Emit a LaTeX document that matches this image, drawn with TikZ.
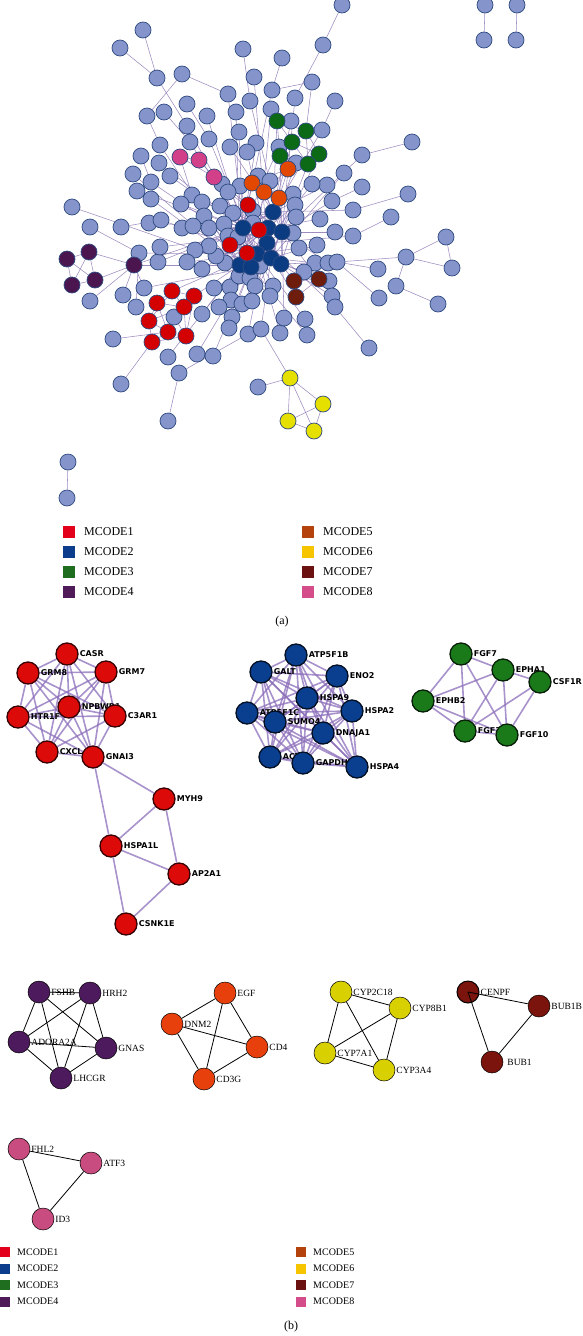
\documentclass[tikz,border=0pt]{standalone}
\usepackage{fontspec}
\setmainfont{Liberation Serif}
\newfontfamily\genefont{DejaVu Sans}
\usetikzlibrary{positioning,backgrounds}
\definecolor{netblue}{HTML}{8595CC}
\definecolor{netrim}{HTML}{2E4A80}
\definecolor{netedge}{HTML}{8C78B4}
\definecolor{bedge}{HTML}{8B6DB9}
\definecolor{nRed}{HTML}{D40000}
\definecolor{nBlue}{HTML}{0B3C82}
\definecolor{nGreen}{HTML}{0C6A16}
\definecolor{nPurple}{HTML}{4B1650}
\definecolor{nOrange}{HTML}{E24800}
\definecolor{nBrown}{HTML}{6E1C0C}
\definecolor{nPink}{HTML}{D2408A}
\definecolor{nYellow}{HTML}{E6E000}
\definecolor{mcA}{HTML}{E2001A}
\definecolor{mcB}{HTML}{0B3D8C}
\definecolor{mcC}{HTML}{1F6E1F}
\definecolor{mcD}{HTML}{4E1A57}
\definecolor{mcE}{HTML}{B4420C}
\definecolor{mcF}{HTML}{F6C500}
\definecolor{mcG}{HTML}{6B1210}
\definecolor{mcH}{HTML}{D44C89}
\definecolor{cRed}{HTML}{DD0A0A}
\definecolor{cBlue}{HTML}{0A3E8E}
\definecolor{cGreen}{HTML}{1A7A1A}
\definecolor{cPurple}{HTML}{4E1A5E}
\definecolor{cOrange}{HTML}{E8400C}
\definecolor{cYellow}{HTML}{D9D000}
\definecolor{cBrown}{HTML}{7A140C}
\definecolor{cPink}{HTML}{C94C80}

\begin{document}
\begin{tikzpicture}[x=1pt,y=-1pt,
  nd/.style={circle,inner sep=0pt,minimum size=16pt,draw=netrim,line width=0.7pt,fill=#1},
  nd/.default=netblue,
  ln/.style={draw=netedge,line width=0.55pt,opacity=0.85},
  bn/.style={circle,inner sep=0pt,minimum size=22pt,draw=black!75!#1,line width=1.3pt,fill=#1},
  bl/.style={draw=bedge,line width=1.6pt,opacity=0.75},
  tag/.style={font=\genefont\bfseries\fontsize{8}{9}\selectfont,inner sep=1pt},
  sn/.style={circle,inner sep=0pt,minimum size=22pt,draw=black,line width=0.5pt,fill=#1},
  sl/.style={draw=black,line width=0.8pt},
  stag/.style={font=\fontsize{9.5}{11}\selectfont,inner sep=1pt},
  key/.style={minimum size=12pt,inner sep=0pt,fill=#1},
  keytxt/.style={font=\fontsize{12}{14}\selectfont,anchor=west,inner sep=0pt},
  keyb/.style={minimum size=10pt,inner sep=0pt,fill=#1},
  keytxtb/.style={font=\fontsize{10}{12}\selectfont,anchor=west,inner sep=0pt}]
\useasboundingbox (0,0) rectangle (582,1336);

% (a) whole network
\foreach \n/\x/\y in {p1/143/30,p2/120/48,p3/157/78,p4/182/74,p5/228/94,p6/243/49,p7/282/58,p8/254/77,p9/272/90,p10/250/101,
  p11/271/109,p12/295/98,p13/187/104,p14/164/112,p15/147/116,p16/207/116,p17/236/112,p18/187/126,p19/239/132,p20/291/121,
  p21/279/147,p22/296/163,p23/160/145,p24/190/142,p25/209/139,p26/230/147,p27/256/143,p28/247/152,p29/141/156,p30/159/163,
  p31/133/174,p32/170/176,p33/151/182,p34/222/184,p35/240/186,p36/258/176,p37/270/181,p38/293/194,p39/137/191,p40/192/195,
  p41/228/192,p42/151/199,p43/342/5,p44/323/45,p45/312/82,p46/335/101,p47/322/130,p48/362/155,p49/412/142,p50/344/173,
  p51/327/185,p52/312/184,p53/362/187,p54/408/194,p55/72/207,p56/90/227,p57/121/227,p58/149/223,p59/161/220,p60/181/204,
  p61/202/202,p62/220/206,p63/295/205,p64/204/216,p65/233/213,p66/253/211,p67/182/228,p68/193/226,p69/209/228,p70/224/224,
  p71/293/233,p72/253/223,p73/228/236,p74/238/237,p75/260/266,p76/225/263,p77/216/256,p78/209/246,p79/195/250,p80/187/262,
  p81/202/269,p82/158/262,p83/160/247,p84/139/253,p85/90/301,p86/123/295,p87/144/288,p88/136/307,p89/174/317,p90/202/314,
  p91/214/288,p92/230/287,p93/239/276,p94/250/278,p95/255/286,p96/273/286,p97/231/300,p98/242/304,p99/252/301,p100/270/296,
  p101/219/307,p102/232/317,p103/229/328,p104/248/334,p105/261/329,p106/280/333,p107/284/318,p108/113/339,p109/168/357,p110/197/354,
  p111/213/356,p112/179/373,p113/332/201,p114/353/210,p115/391/217,p116/320/219,p117/296/217,p118/335/232,p119/353/236,p120/317/245,
  p121/299/248,p122/446/237,p123/406/257,p124/452/268,p125/315/263,p126/328/263,p127/337/262,p128/378/269,p129/304/272,p130/396/286,
  p131/379/298,p132/438/304,p133/329/281,p134/332/296,p135/335/307,p136/305/319,p137/307/335,p138/369/348,p139/121/384,p140/168/421,
  p141/258/387,i1/485/5,i2/484/40,i3/517/5,i4/516/40,i5/68/462,i6/67/498}
  \node[nd] (\n) at (\x,\y) {};
\foreach \n/\x/\y in {d1/273/212,d2/243/228,d3/268/228,d4/282/232,d5/267/243,d6/257/254,d7/271/258,d8/281/264,d9/240/265,d10/251/267}
  \node[nd=nBlue] (\n) at (\x,\y) {};
\foreach \n/\x/\y in {r1/248/205,r2/259/230,r3/230/245,r4/247/253,r5/172/291,r6/194/296,r7/157/303,r8/184/307,r9/149/321,r10/168/332,r11/186/336,r12/152/342}
  \node[nd=nRed] (\n) at (\x,\y) {};
\foreach \n/\x/\y in {g1/277/121,g2/292/142,g3/280/156,g4/306/131,g5/319/154,g6/308/164}
  \node[nd=nGreen] (\n) at (\x,\y) {};
\foreach \n/\x/\y in {o1/288/169,o2/252/183,o3/264/192,o4/279/198}
  \node[nd=nOrange] (\n) at (\x,\y) {};
\foreach \n/\x/\y in {k1/180/157,k2/199/160,k3/214/177}
  \node[nd=nPink] (\n) at (\x,\y) {};
\foreach \n/\x/\y in {u1/67/259,u2/89/252,u3/134/265,u4/72/285,u5/95/280}
  \node[nd=nPurple] (\n) at (\x,\y) {};
\foreach \n/\x/\y in {w1/294/281,w2/319/279,w3/296/297}
  \node[nd=nBrown] (\n) at (\x,\y) {};
\foreach \n/\x/\y in {y1/290/378,y2/323/404,y3/288/421,y4/314/431}
  \node[nd=nYellow] (\n) at (\x,\y) {};

\begin{pgfonlayer}{background}
\foreach \a/\b in {p1/p3,p2/p3,p3/p18,p4/p5,p4/p15,p5/d2,p6/p10,p7/p9,p8/d5,p9/p45,p9/d2,p10/d4,p11/d6,p12/p44,p43/p44,p12/d4,
  p13/p25,p14/p24,p15/p23,p16/d2,p17/d9,p18/d6,p19/d2,g1/g2,g1/g3,g1/g4,g2/g3,g2/g4,g2/g5,g2/g6,g3/g6,g3/o1,g4/g5,g4/g6,g5/g6,
  g1/d1,g2/d1,g3/d4,g4/p45,g5/d4,g6/d7,p20/d1,p21/d2,p22/d5,p23/d9,p24/d2,p25/d6,p26/d1,p27/d2,p28/d7,p29/p33,p30/d2,
  k1/k2,k2/k3,k1/k3,k3/d2,k1/p40,p31/d9,p32/d2,p33/d6,p34/d4,p35/d6,p36/d1,p37/d9,o1/o2,o1/o3,o1/o4,o2/o3,o2/o4,o3/o4,
  o2/r1,o3/d1,o4/d4,p38/d7,p39/d2,p40/d9,p41/d4,p42/d9,p46/p47,p47/d1,p48/p49,p48/d4,p50/d7,p51/d2,p52/d6,p53/p113,p54/p114,
  p55/d9,p56/p84,p57/p59,p58/d2,p59/d6,p60/d2,p61/d4,p62/d7,r1/d2,r1/r2,r1/r3,r1/r4,r2/r3,r2/r4,r3/r4,r2/d4,r3/d9,r4/d7,
  d1/d2,d1/d3,d1/d4,d1/d5,d2/d3,d2/d6,d2/d9,d3/d4,d3/d5,d3/d6,d4/d5,d4/d8,d5/d6,d5/d7,d6/d7,d6/d9,d6/d10,d7/d8,d8/d10,
  d9/d10,d3/d8,d2/d10,d5/d9,p63/d3,p64/d6,p65/d1,p66/d7,p67/d2,p68/d4,p69/d9,p70/d1,p71/d3,p72/d7,p73/d4,p74/d6,p75/d2,
  p76/d3,p77/d5,p78/d1,p79/d10,p80/d6,p81/d3,p82/d2,p83/d4,p84/d6,u1/u2,u1/u4,u1/u5,u2/u4,u2/u5,u4/u5,u2/u3,u5/u3,u3/d9,
  u3/d2,u3/p87,p85/u3,p86/u3,p87/d10,p88/p84,r5/r6,r5/r7,r5/r8,r6/r8,r7/r8,r7/r9,r8/r9,r9/r10,r10/r11,r9/r12,r10/r12,
  r11/r12,r8/r11,r7/r10,r6/r11,r5/r9,r6/d9,r5/d6,p89/r11,p90/d9,p91/d10,p92/d7,p93/d5,p94/d3,p95/d2,p96/d6,p97/d1,p98/d4,
  p99/d7,p100/d9,p101/d6,p102/d10,p103/d2,p104/d5,p105/d7,p106/d6,p107/d4,p108/r10,p109/d9,p110/d6,p111/d10,p112/p104,
  p140/p112,p139/r12,w1/w2,w1/w3,w2/w3,w1/d8,w3/d7,w2/d4,y1/y2,y1/y3,y1/y4,y2/y3,y2/y4,y3/y4,y1/p105,p141/y1,p113/d4,
  p114/d1,p115/p119,p116/d3,p117/d8,p118/d4,p119/d5,p120/d7,p121/d6,p122/p123,p122/p124,p123/p124,p123/p127,p123/p130,
  p130/p132,p127/d8,p128/p127,p131/p127,p125/d7,p126/d4,p129/d6,p133/d8,p134/d7,p135/d5,p138/p135,p136/d6,p137/d10,
  i1/i2,i3/i4,i5/i6}
  \draw[ln] (\a) -- (\b);
\end{pgfonlayer}

% (a) legend
\foreach \c/\t [count=\i] in {mcA/MCODE1,mcB/MCODE2,mcC/MCODE3,mcD/MCODE4} {
  \node[key=\c] (ka\i) at (69,512+20*\i) {};
  \node[keytxt] (ta\i) at (84,512+20*\i) {\t};
}
\foreach \c/\t [count=\i] in {mcE/MCODE5,mcF/MCODE6,mcG/MCODE7,mcH/MCODE8} {
  \node[key=\c] (kb\i) at (308,512+20*\i) {};
  \node[keytxt] (tb\i) at (323,512+20*\i) {\t};
}
\node[font=\fontsize{12}{14}\selectfont] (capa) at (282,622) {(a)};

% (b) MCODE1
\node[bn=cRed,label={[tag]right:CASR}] (casr) at (67,654) {};
\node[bn=cRed,label={[tag]right:GRM8}] (grm8) at (28,673) {};
\node[bn=cRed,label={[tag]right:GRM7}] (grm7) at (106,672) {};
\node[bn=cRed,label={[tag]right:NPBWR1}] (npbwr1) at (69,707) {};
\node[bn=cRed,label={[tag]right:HTR1F}] (htr1f) at (18,717) {};
\node[bn=cRed,label={[tag]right:C3AR1}] (c3ar1) at (115,716) {};
\node[bn=cRed,label={[tag]right:CXCL}] (cxcl) at (47,752) {};
\node[bn=cRed,label={[tag]right:GNAI3}] (gnai3) at (93,757) {};
\node[bn=cRed,label={[tag]right:MYH9}] (myh9) at (164,799) {};
\node[bn=cRed,label={[tag]right:HSPA1L}] (hspa1l) at (111,846) {};
\node[bn=cRed,label={[tag]right:AP2A1}] (ap2a1) at (179,874) {};
\node[bn=cRed,label={[tag]right:CSNK1E}] (csnk1e) at (126,924) {};
% (b) MCODE2
\node[bn=cBlue,label={[tag]right:ATP5F1B}] (atp5f1b) at (296,655) {};
\node[bn=cBlue,label={[tag]right:GALT}] (galt) at (261,672) {};
\node[bn=cBlue,label={[tag]right:ENO2}] (eno2) at (337,676) {};
\node[bn=cBlue,label={[tag]right:HSPA9}] (hspa9) at (307,698) {};
\node[bn=cBlue,label={[tag]right:HSPA2}] (hspa2) at (352,711) {};
\node[bn=cBlue,label={[tag]right:ATP5F1C}] (atp5f1c) at (247,713) {};
\node[bn=cBlue,label={[tag]right:SUMO4}] (sumo4) at (275,722) {};
\node[bn=cBlue,label={[tag]right:DNAJA1}] (dnaja1) at (323,733) {};
\node[bn=cBlue,label={[tag]right:ACTB}] (actb) at (270,757) {};
\node[bn=cBlue,label={[tag]right:GAPDH}] (gapdh) at (303,763) {};
\node[bn=cBlue,label={[tag]right:HSPA4}] (hspa4) at (357,767) {};
% (b) MCODE3
\node[bn=cGreen,label={[tag]right:FGF7}] (fgf7) at (461,654) {};
\node[bn=cGreen,label={[tag]right:EPHA1}] (epha1) at (503,670) {};
\node[bn=cGreen,label={[tag]right:CSF1R}] (csf1r) at (540,682) {};
\node[bn=cGreen,label={[tag]right:EPHB2}] (ephb2) at (423,701) {};
\node[bn=cGreen,label={[tag]right:FGF3}] (fgf3) at (465,731) {};
\node[bn=cGreen,label={[tag]right:FGF10}] (fgf10) at (507,735) {};

\begin{pgfonlayer}{background}
\foreach \a [count=\i] in {casr,grm8,grm7,npbwr1,htr1f,c3ar1,cxcl,gnai3}
  \foreach \b [count=\j] in {casr,grm8,grm7,npbwr1,htr1f,c3ar1,cxcl,gnai3}
    {\ifnum\j>\i \draw[bl] (\a) -- (\b); \fi}
\foreach \a/\b in {gnai3/myh9,gnai3/hspa1l,myh9/hspa1l,myh9/ap2a1,hspa1l/ap2a1,hspa1l/csnk1e,ap2a1/csnk1e}
  \draw[bl] (\a) -- (\b);
\foreach \a [count=\i] in {atp5f1b,galt,eno2,hspa9,hspa2,atp5f1c,sumo4,dnaja1,actb,gapdh,hspa4}
  \foreach \b [count=\j] in {atp5f1b,galt,eno2,hspa9,hspa2,atp5f1c,sumo4,dnaja1,actb,gapdh,hspa4}
    {\ifnum\j>\i \draw[bl] (\a) -- (\b); \fi}
\foreach \a/\b in {fgf7/epha1,fgf7/ephb2,fgf7/fgf3,fgf7/fgf10,epha1/csf1r,epha1/ephb2,epha1/fgf3,epha1/fgf10,
  csf1r/fgf3,csf1r/fgf10,ephb2/fgf3,ephb2/fgf10,fgf3/fgf10}
  \draw[bl] (\a) -- (\b);
\end{pgfonlayer}

% (b) MCODE4--8
\node[sn=cPurple,label={[stag]right:FSHB}] (fshb) at (39,992) {};
\node[sn=cPurple,label={[stag]right:HRH2}] (hrh2) at (90,993) {};
\node[sn=cPurple,label={[stag]right:ADORA2A}] (adora2a) at (19,1042) {};
\node[sn=cPurple,label={[stag]right:GNAS}] (gnas) at (106,1048) {};
\node[sn=cPurple,label={[stag]right:LHCGR}] (lhcgr) at (61,1078) {};
\node[sn=cOrange,label={[stag]right:EGF}] (egf) at (225,993) {};
\node[sn=cOrange,label={[stag]right:DNM2}] (dnm2) at (172,1024) {};
\node[sn=cOrange,label={[stag]right:CD4}] (cd4) at (257,1047) {};
\node[sn=cOrange,label={[stag]right:CD3G}] (cd3g) at (204,1079) {};
\node[sn=cYellow,label={[stag]right:CYP2C18}] (cyp2c18) at (341,992) {};
\node[sn=cYellow,label={[stag]right:CYP8B1}] (cyp8b1) at (400,1008) {};
\node[sn=cYellow,label={[stag]right:CYP7A1}] (cyp7a1) at (325,1053) {};
\node[sn=cYellow,label={[stag]right:CYP3A4}] (cyp3a4) at (384,1070) {};
\node[sn=cBrown,line width=1pt,label={[stag]right:CENPF}] (cenpf) at (468,992) {};
\node[sn=cBrown,label={[stag]right:BUB1B}] (bub1b) at (539,1006) {};
\node[sn=cBrown,label={[stag,label distance=3pt]right:BUB1}] (bub1) at (492,1062) {};
\node[sn=cPink,label={[stag]right:FHL2}] (fhl2) at (19,1149) {};
\node[sn=cPink,label={[stag]right:ATF3}] (atf3) at (91,1163) {};
\node[sn=cPink,label={[stag]right:ID3}] (id3) at (43,1219) {};

\foreach \a [count=\i] in {fshb,hrh2,adora2a,gnas,lhcgr}
  \foreach \b [count=\j] in {fshb,hrh2,adora2a,gnas,lhcgr}
    {\ifnum\j>\i \draw[sl] (\a) -- (\b); \fi}
\foreach \a [count=\i] in {egf,dnm2,cd4,cd3g}
  \foreach \b [count=\j] in {egf,dnm2,cd4,cd3g}
    {\ifnum\j>\i \draw[sl] (\a) -- (\b); \fi}
\foreach \a [count=\i] in {cyp2c18,cyp8b1,cyp7a1,cyp3a4}
  \foreach \b [count=\j] in {cyp2c18,cyp8b1,cyp7a1,cyp3a4}
    {\ifnum\j>\i \draw[sl] (\a) -- (\b); \fi}
\draw[sl] (cenpf.center) -- (bub1b);
\draw[sl] (cenpf.center) -- (bub1);
\draw[sl] (bub1b) -- (bub1);
\draw[sl] (fhl2) -- (atf3);
\draw[sl] (fhl2) -- (id3);
\draw[sl] (atf3) -- (id3);

% (b) legend
\foreach \c/\t [count=\i] in {mcA/MCODE1,mcB/MCODE2,mcC/MCODE3,mcD/MCODE4} {
  \node[keyb=\c] (kc\i) at (5,1235.5+16.5*\i) {};
  \node[keytxtb] (tc\i) at (17,1235.5+16.5*\i) {\t};
}
\foreach \c/\t [count=\i] in {mcE/MCODE5,mcF/MCODE6,mcG/MCODE7,mcH/MCODE8} {
  \node[keyb=\c] (kd\i) at (301,1235.5+16.5*\i) {};
  \node[keytxtb] (td\i) at (313,1235.5+16.5*\i) {\t};
}
\node[font=\fontsize{12}{14}\selectfont] (capb) at (291,1327) {(b)};
\end{tikzpicture}
\end{document}
